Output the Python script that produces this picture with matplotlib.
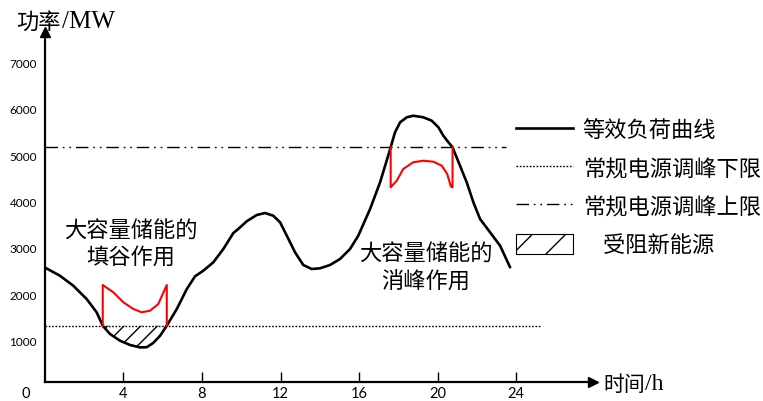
import matplotlib
matplotlib.use('Agg')
import matplotlib.pyplot as plt
from matplotlib.lines import Line2D
from matplotlib.patches import Patch
import numpy as np

# ---------------- data ----------------
hours = [0.05, 0.77, 1.45, 2.13, 2.64, 2.95, 3.32, 3.83, 4.34, 4.85, 5.19, 5.52, 5.87,
         6.21, 6.72, 7.23, 7.65, 8.07, 8.58, 9.09, 9.60, 9.85, 10.28, 10.79, 11.21,
         11.63, 11.98, 12.32, 12.74, 13.16, 13.59, 14.01, 14.52, 15.03, 15.54, 15.96,
         16.56, 17.07, 17.61, 17.83, 18.09, 18.43, 18.76, 19.27, 19.70, 20.04, 20.29,
         20.55, 20.76, 21.14, 21.48, 21.82, 22.16, 22.67, 23.18, 23.69]
load = [2565, 2399, 2183, 1896, 1609, 1319, 1140, 995, 903, 850, 855, 946, 1103,
        1319, 1680, 2112, 2386, 2507, 2688, 2976, 3321, 3408, 3574, 3710, 3753,
        3695, 3552, 3263, 2904, 2630, 2544, 2559, 2630, 2760, 2976, 3263,
        3839, 4416, 5172, 5496, 5712, 5820, 5854, 5820, 5746, 5604, 5422,
        5280, 5172, 4774, 4416, 3984, 3623, 3336, 3047, 2580]

lower_limit = 1319
upper_limit = 5172

valley_t = [2.95, 2.95, 3.49, 4.00, 4.51, 4.93, 5.36, 5.78, 6.21, 6.21]
valley_p = [1319, 2198, 2041, 1825, 1680, 1609, 1643, 1788, 2198, 1319]

peak_t = [17.61, 17.61, 17.92, 18.25, 18.76, 19.27, 19.78, 20.21, 20.49, 20.67, 20.76, 20.76]
peak_p = [5172, 4308, 4451, 4703, 4848, 4882, 4861, 4774, 4595, 4330, 4308, 5172]

x_ticks = [4, 8, 12, 16, 20, 24]
y_ticks = [1000, 2000, 3000, 4000, 5000, 6000, 7000]

legend_labels = ['等效负荷曲线', '常规电源调峰下限', '常规电源调峰上限', '    受阻新能源']
valley_text = ['大容量储能的', '填谷作用']
peak_text = ['大容量储能的', '消峰作用']

# ---------------- figure ----------------
W, H = 763, 402
fig = plt.figure(figsize=(W / 100, H / 100), dpi=100)

def px_box(l, t, r, b):
    return [l / W, 1 - b / H, (r - l) / W, (b - t) / H]

CJK = ['Noto Sans CJK SC', 'DejaVu Sans']

ax = fig.add_axes(px_box(44.8, 33, 593, 382.7))
ax.set_xlim(0, 27.91)
ax.set_ylim(110, 7662)

for s in ['top', 'right']:
    ax.spines[s].set_visible(False)
for s in ['left', 'bottom']:
    ax.spines[s].set_linewidth(1.6)

# arrow heads
ax.plot([1], [0], marker='>', ms=7, color='k', transform=ax.transAxes, clip_on=False)
ax.plot([0], [1], marker='^', ms=7, color='k', transform=ax.transAxes, clip_on=False)

ax.set_xticks(x_ticks)
ax.set_xticklabels([str(v) for v in x_ticks], family='Lato', fontsize=10.5)
ax.tick_params(axis='x', direction='in', length=7.2, width=1, pad=3)
ax.set_yticks(y_ticks)
ax.set_yticklabels([str(v) for v in y_ticks], family='Lato', fontsize=8.5)
ax.tick_params(axis='y', length=0, pad=5.6)

# limits
ax.plot([0, 25.2], [lower_limit, lower_limit], color='k', lw=1, ls=(0, (1.2, 1.2)))
ax.plot([0, 23.5], [upper_limit, upper_limit], color='k', lw=1,
        ls=(0, (9, 3.5, 1.2, 3.5, 1.2, 3.5)))

# hatch (blocked renewable)
h = np.array(hours)
l = np.array(load)
m = (h >= 2.95) & (h <= 6.21)
ax.fill_between(h[m], l[m], lower_limit, facecolor='none', edgecolor='k', hatch='//', lw=0)

# load curve
ax.plot(hours, load, color='k', lw=1.9, solid_joinstyle='round', solid_capstyle='round')

# storage
ax.plot(valley_t, valley_p, color='#ff0000', lw=1.5)
ax.plot(peak_t, peak_p, color='#ff0000', lw=1.5)

# annotations
ax.text(4.38, 3371, valley_text[0], ha='center', va='center', fontsize=16, family=CJK)
ax.text(4.38, 2814, valley_text[1], ha='center', va='center', fontsize=16, family=CJK)
ax.text(19.40, 2889, peak_text[0], ha='center', va='center', fontsize=16, family=CJK)
ax.text(19.41, 2285, peak_text[1], ha='center', va='center', fontsize=16, family=CJK)

# axis titles
fig.text(16 / W, 1 - 22 / H, '功率', fontsize=16, family=CJK, va='center', ha='left')
fig.text(62 / W, 1 - 22 / H, '/MW', fontsize=18, family='Liberation Serif', va='center', ha='left')
fig.text(603 / W, 1 - 385 / H, '时间', fontsize=15, family=CJK, va='center', ha='left')
fig.text(645 / W, 1 - 385 / H, '/h', fontsize=17, family='Liberation Serif', va='center', ha='left')
fig.text(26 / W, 1 - 394 / H, '0', fontsize=10.5, family='Lato', va='center', ha='center')

# legend
handles = [
    Line2D([], [], color='k', lw=1.9),
    Line2D([], [], color='k', lw=1, ls=(0, (1.2, 1.2))),
    Line2D([], [], color='k', lw=1, ls=(0, (9, 3.5, 1.2, 3.5, 1.2, 3.5))),
    Patch(facecolor='white', edgecolor='k', hatch='/', lw=0.8),
]
fig.legend(handles, legend_labels, loc='upper left',
           bbox_to_anchor=(516 / W, 1 - 120 / H), frameon=False,
           prop={'family': CJK, 'size': 16}, handlelength=2.57, handletextpad=0.43,
           labelspacing=0.68, borderpad=0, borderaxespad=0, handleheight=1.0)

fig.savefig('out.png', dpi=100)
